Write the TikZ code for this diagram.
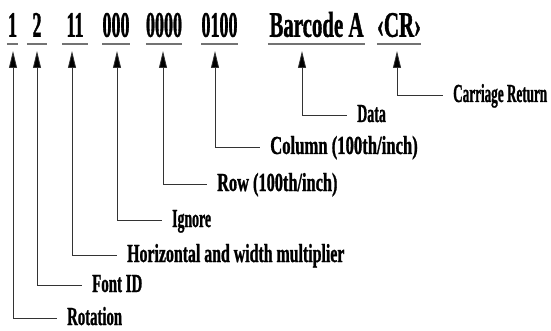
\documentclass[tikz,border=0pt]{standalone}
\usepackage{fontspec}
\setmainfont{Liberation Serif}
\newfontfamily\labfont{Liberation Serif}[FakeStretch=0.61, FakeBold=1]
\newfontfamily\digfont{Liberation Serif}[FakeStretch=0.5, FakeBold=1]
\newfontfamily\wordfont{Liberation Serif}[FakeStretch=0.58, FakeBold=1]
\usetikzlibrary{arrows.meta}
\begin{document}
\begin{tikzpicture}[x=1pt,y=-1pt,
  tok/.style={anchor=south, inner sep=0pt, text depth=7pt, font=\digfont\bfseries\fontsize{36}{38}\selectfont},
  wtok/.style={tok, font=\wordfont\bfseries\fontsize{36}{38}\selectfont},
  lab/.style={anchor=west, inner sep=0pt, text height=18pt, text depth=4pt, font=\labfont\bfseries\fontsize{26}{28}\selectfont},
  uline/.style={draw=black!55, line width=1.2pt},
  conn/.style={draw=black!80, line width=0.8pt, {Triangle[length=17pt,width=8pt,fill=black]}-, shorten >=10pt}]
\useasboundingbox (0,0) rectangle (551,331);
% tokens
\node[tok, minimum width=11pt] (n1) at (12.5,44) {1};
\node[tok, minimum width=20pt] (n2) at (37,44) {2};
\node[tok, minimum width=26pt] (n11) at (75,44) {11};
\node[tok, minimum width=26pt] (n000) at (116,44) {000};
\node[tok, minimum width=32pt] (n0000) at (164,44) {0000};
\node[tok, minimum width=35pt] (n0100) at (219.5,44) {0100};
\node[wtok, minimum width=97pt] (nbar) at (316.5,44) {Barcode A};
\node[wtok, minimum width=38pt] (ncr) at (399,44) {‹CR›};
\foreach \n in {n1,n2,n11,n000,n0000,n0100,nbar,ncr}
  \draw[uline] (\n.south west) -- (\n.south east);
% labels
\node[lab] (lrot) at (67,318) {\scalebox{0.93}[1]{Rotation}};
\node[lab] (lfont) at (92,285) {\scalebox{0.94}[1]{Font ID}};
\node[lab] (lhor) at (127,255) {Horizontal and width multiplier};
\node[lab] (lign) at (172,220) {\scalebox{0.87}[1]{Ignore}};
\node[lab] (lrow) at (217,184) {\scalebox{1.03}[1]{Row (100th/inch)}};
\node[lab] (lcol) at (270,147) {\scalebox{1.05}[1]{Column (100th/inch)}};
\node[lab] (ldata) at (357,115) {\scalebox{0.88}[1]{Data}};
\node[lab] (lcr) at (453,95) {\scalebox{0.83}[1]{Carriage Return}};
% arrow tips
\coordinate (a1) at (13,51);
\coordinate (a2) at (37,51);
\coordinate (a11) at (72,51);
\coordinate (a000) at (117,51);
\coordinate (a0000) at (163,51);
\coordinate (a0100) at (215,51);
\coordinate (abar) at (302,51);
\coordinate (acr) at (397,51);
\draw[conn] (a1) |- (lrot.west);
\draw[conn] (a2) |- (lfont.west);
\draw[conn] (a11) |- (lhor.west);
\draw[conn] (a000) |- (lign.west);
\draw[conn] (a0000) |- (lrow.west);
\draw[conn] (a0100) |- (lcol.west);
\draw[conn] (abar) |- (ldata.west);
\draw[conn] (acr) |- (lcr.west);
\end{tikzpicture}
\end{document}
